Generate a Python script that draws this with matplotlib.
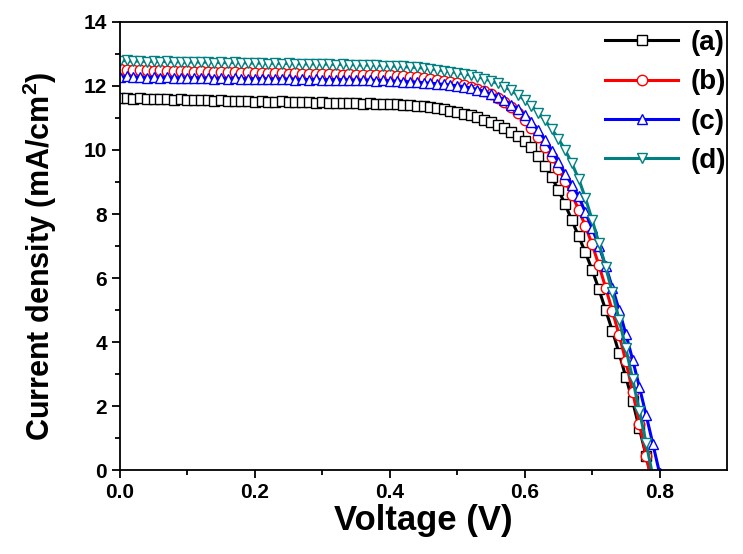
import matplotlib
matplotlib.use("Agg")
import matplotlib.pyplot as plt

plt.rcParams["font.family"] = ["Liberation Sans", "DejaVu Sans"]
plt.rcParams["font.weight"] = "bold"
plt.rcParams["mathtext.fontset"] = "custom"
plt.rcParams["mathtext.bf"] = "Liberation Sans:bold"
plt.rcParams["mathtext.rm"] = "Liberation Sans:bold"

# voltage (V)
voltage = [0.00, 0.01, 0.02, 0.03, 0.04, 0.05, 0.06, 0.07, 0.08, 0.09,
           0.10, 0.11, 0.12, 0.13, 0.14, 0.15, 0.16, 0.17, 0.18, 0.19,
           0.20, 0.21, 0.22, 0.23, 0.24, 0.25, 0.26, 0.27, 0.28, 0.29,
           0.30, 0.31, 0.32, 0.33, 0.34, 0.35, 0.36, 0.37, 0.38, 0.39,
           0.40, 0.41, 0.42, 0.43, 0.44, 0.45, 0.46, 0.47, 0.48, 0.49,
           0.50, 0.51, 0.52, 0.53, 0.54, 0.55, 0.56, 0.57, 0.58, 0.59,
           0.60, 0.61, 0.62, 0.63, 0.64, 0.65, 0.66, 0.67, 0.68, 0.69,
           0.70, 0.71, 0.72, 0.73, 0.74, 0.75, 0.76, 0.77, 0.78, 0.79,
           0.80]

# current density (mA/cm2)
j_a = [11.62, 11.64, 11.60, 11.61, 11.59, 11.60, 11.58, 11.59, 11.57, 11.58,
       11.56, 11.57, 11.55, 11.56, 11.54, 11.55, 11.53, 11.54, 11.52, 11.53,
       11.51, 11.53, 11.50, 11.51, 11.52, 11.50, 11.51, 11.49, 11.50, 11.48,
       11.49, 11.47, 11.48, 11.46, 11.47, 11.46, 11.45, 11.46, 11.45, 11.45,
       11.44, 11.43, 11.42, 11.40, 11.38, 11.36, 11.33, 11.30, 11.27, 11.23,
       11.19, 11.14, 11.08, 11.02, 10.95, 10.88, 10.79, 10.69, 10.57, 10.44,
       10.28, 10.08, 9.82, 9.50, 9.15, 8.75, 8.30, 7.80, 7.30, 6.80,
       6.25, 5.65, 5.00, 4.35, 3.65, 2.90, 2.15, 1.30, 0.45, -0.40,
       -1.25]

j_b = [12.52, 12.50, 12.51, 12.49, 12.50, 12.48, 12.49, 12.47, 12.48, 12.46,
       12.47, 12.45, 12.46, 12.44, 12.45, 12.44, 12.43, 12.44, 12.42, 12.43,
       12.41, 12.42, 12.40, 12.41, 12.40, 12.39, 12.40, 12.38, 12.39, 12.37,
       12.38, 12.36, 12.37, 12.35, 12.36, 12.35, 12.34, 12.35, 12.33, 12.34,
       12.33, 12.32, 12.31, 12.29, 12.27, 12.25, 12.22, 12.19, 12.16, 12.13,
       12.10, 12.04, 11.98, 11.92, 11.85, 11.76, 11.64, 11.50, 11.34, 11.15,
       10.93, 10.68, 10.40, 10.10, 9.78, 9.42, 9.02, 8.60, 8.14, 7.62,
       7.05, 6.40, 5.70, 4.97, 4.22, 3.40, 2.45, 1.45, 0.45, -0.55,
       -1.55]

j_c = [12.28, 12.30, 12.27, 12.29, 12.26, 12.28, 12.26, 12.27, 12.25, 12.26,
       12.24, 12.26, 12.24, 12.25, 12.23, 12.24, 12.23, 12.24, 12.22, 12.23,
       12.22, 12.23, 12.21, 12.22, 12.21, 12.22, 12.20, 12.21, 12.20, 12.21,
       12.19, 12.20, 12.19, 12.20, 12.18, 12.19, 12.18, 12.19, 12.17, 12.18,
       12.16, 12.15, 12.14, 12.13, 12.12, 12.10, 12.09, 12.07, 12.05, 12.03,
       12.01, 11.98, 11.94, 11.89, 11.83, 11.75, 11.66, 11.55, 11.42, 11.27,
       11.09, 10.88, 10.62, 10.32, 9.98, 9.62, 9.25, 8.92, 8.55, 8.05,
       7.55, 7.00, 6.38, 5.70, 5.00, 4.25, 3.45, 2.60, 1.72, 0.82,
       -0.10]

j_d = [12.78, 12.80, 12.77, 12.79, 12.76, 12.78, 12.76, 12.77, 12.75, 12.76,
       12.74, 12.76, 12.74, 12.75, 12.73, 12.74, 12.72, 12.74, 12.72, 12.73,
       12.71, 12.72, 12.70, 12.72, 12.70, 12.71, 12.69, 12.70, 12.68, 12.70,
       12.68, 12.69, 12.67, 12.68, 12.66, 12.67, 12.65, 12.66, 12.65, 12.64,
       12.63, 12.62, 12.61, 12.59, 12.58, 12.56, 12.54, 12.51, 12.48, 12.45,
       12.42, 12.38, 12.34, 12.29, 12.23, 12.16, 12.08, 11.98, 11.86, 11.72,
       11.56, 11.38, 11.17, 10.93, 10.66, 10.35, 10.00, 9.58, 9.10, 8.50,
       7.82, 7.10, 6.35, 5.55, 4.70, 3.80, 2.85, 1.85, 0.85, -0.20,
       -1.25]

labels = ["(a)", "(b)", "(c)", "(d)"]
colors = ["black", "#ff0000", "#0000ff", "#008080"]
markers = ["s", "o", "^", "v"]
series = [j_a, j_b, j_c, j_d]

fig = plt.figure(figsize=(7.43, 5.54), dpi=100)
ax = fig.add_axes([0.1615, 0.1516, 0.8170, 0.8087])

for j, lab, c, m in zip(series, labels, colors, markers):
    ms = 6.5 if m == "s" else 7.5
    ax.plot(voltage, j, color=c, lw=2.2, marker=m, ms=ms, mfc="white",
            mec=c, mew=1.0, label=lab)

ax.set_xlim(0, 0.9)
ax.set_ylim(0, 14)
ax.set_xticks([0.0, 0.2, 0.4, 0.6, 0.8])
ax.set_xticks([0.1, 0.3, 0.5, 0.7], minor=True)
ax.set_yticks([0, 2, 4, 6, 8, 10, 12, 14])
ax.set_yticks([1, 3, 5, 7, 9, 11, 13], minor=True)
ax.xaxis.set_major_formatter(matplotlib.ticker.FormatStrFormatter("%.1f"))

for s in ax.spines.values():
    s.set_linewidth(1.3)
ax.tick_params(which="major", direction="out", length=6, width=1.3,
               labelsize=15, top=False, right=False)
ax.tick_params(which="minor", direction="out", length=3.5, width=1.3,
               top=False, right=False)

ax.set_xlabel("Voltage (V)", fontsize=25, fontweight="bold", labelpad=1)
ax.set_ylabel("Current density (mA/cm$^\\mathbf{2}$)", fontsize=22,
              fontweight="bold")
ax.yaxis.set_label_coords(-0.100, 0.478)

ax.legend(loc="upper right", bbox_to_anchor=(1.0, 0.985), frameon=False,
          handlelength=2.63, handletextpad=0.43, labelspacing=0.48,
          borderaxespad=0.05, borderpad=0.0,
          prop={"weight": "bold", "size": 20})

plt.savefig("out.png", dpi=100)
